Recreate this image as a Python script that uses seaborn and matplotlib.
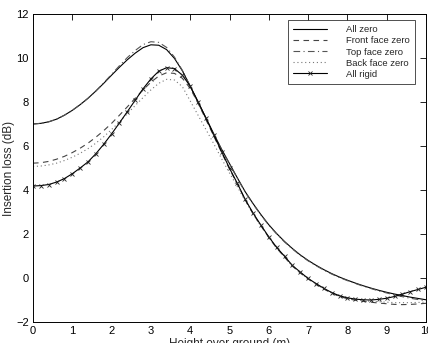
import numpy as np
import pandas as pd
import matplotlib
matplotlib.use("Agg")
import matplotlib.pyplot as plt
import seaborn as sns

# height over ground, 0 to 10 m in 0.2 m steps
altura = np.round(np.arange(0, 10.01, 0.2), 1)

all_zero = [7.00, 7.03, 7.10, 7.22, 7.40, 7.62, 7.88, 8.17, 8.50, 8.85,
            9.22, 9.58, 9.92, 10.22, 10.47, 10.60, 10.58, 10.38, 9.98, 9.42,
            8.72, 7.98, 7.28, 6.55, 5.85, 5.20, 4.55, 3.92, 3.38, 2.88,
            2.42, 2.02, 1.66, 1.34, 1.05, 0.80, 0.58, 0.38, 0.20, 0.04,
            -0.10, -0.23, -0.35, -0.46, -0.56, -0.65, -0.73, -0.80, -0.87, -0.93,
            -0.99]

front_zero = [5.22, 5.24, 5.30, 5.40, 5.53, 5.70, 5.90, 6.13, 6.40, 6.70,
              7.03, 7.40, 7.78, 8.17, 8.55, 8.90, 9.18, 9.33, 9.30, 9.08,
              8.62, 7.95, 7.20, 6.45, 5.70, 4.95, 4.27, 3.55, 2.92, 2.37,
              1.84, 1.36, 0.95, 0.54, 0.23, -0.04, -0.28, -0.50, -0.69, -0.84,
              -0.94, -1.01, -1.06, -1.10, -1.14, -1.17, -1.20, -1.21, -1.20, -1.18,
              -1.15]

top_zero = [7.00, 7.03, 7.10, 7.22, 7.40, 7.62, 7.88, 8.17, 8.50, 8.87,
            9.26, 9.65, 10.02, 10.34, 10.61, 10.74, 10.71, 10.48, 10.04, 9.44,
            8.72, 7.96, 7.26, 6.53, 5.83, 5.18, 4.53, 3.90, 3.36, 2.86,
            2.40, 2.00, 1.64, 1.32, 1.03, 0.78, 0.56, 0.36, 0.18, 0.02,
            -0.12, -0.25, -0.37, -0.48, -0.59, -0.68, -0.77, -0.85, -0.92, -0.98,
            -1.04]

back_zero = [5.07, 5.09, 5.14, 5.22, 5.34, 5.49, 5.67, 5.88, 6.13, 6.42,
             6.75, 7.10, 7.47, 7.84, 8.20, 8.55, 8.85, 9.03, 9.00, 8.70,
             8.05, 7.40, 6.75, 6.10, 5.42, 4.77, 4.15, 3.50, 2.90, 2.36,
             1.84, 1.36, 0.95, 0.54, 0.23, -0.03, -0.27, -0.49, -0.68, -0.83,
             -0.93, -0.99, -1.03, -1.06, -1.08, -1.10, -1.12, -1.12, -1.12, -1.11,
             -1.10]

all_rigid = [4.18, 4.20, 4.25, 4.36, 4.52, 4.74, 5.00, 5.28, 5.65, 6.08,
             6.55, 7.05, 7.56, 8.08, 8.60, 9.05, 9.40, 9.56, 9.52, 9.22,
             8.72, 8.02, 7.27, 6.50, 5.74, 4.99, 4.30, 3.57, 2.95, 2.40,
             1.87, 1.39, 0.99, 0.57, 0.27, -0.02, -0.25, -0.47, -0.66, -0.81,
             -0.90, -0.96, -0.99, -1.00, -0.97, -0.92, -0.84, -0.73, -0.62, -0.52,
             -0.42]

sns.set_style("white")
plt.rcParams["font.family"] = ["Liberation Sans", "DejaVu Sans"]

fig = plt.figure(figsize=(4.28, 3.43), dpi=100)
ax = fig.add_axes([33 / 428, 21 / 343, 393 / 428, 308 / 343])

lw = 0.8
sns.lineplot(x=altura, y=all_zero, ax=ax, color="black", lw=lw, label="All zero")
sns.lineplot(x=altura, y=front_zero, ax=ax, color="#444444", lw=lw,
             linestyle=(0, (5, 4)), label="Front face zero")
sns.lineplot(x=altura, y=top_zero, ax=ax, color="#555555", lw=lw,
             linestyle=(0, (6, 3, 1, 3)), label="Top face zero")
sns.lineplot(x=altura, y=back_zero, ax=ax, color="#777777", lw=lw,
             linestyle=(0, (1, 2.5)), label="Back face zero")
# seaborn pinta o marcador de branco por defeito -> forçar preto
sns.lineplot(x=altura, y=all_rigid, ax=ax, color="black", lw=lw, linestyle="-",
             marker="x", markersize=3.3, markeredgewidth=0.6,
             markeredgecolor="#222222", label="All rigid")

ax.set_xlim(0, 10)
ax.set_ylim(-2, 12)
ax.set_xticks(range(0, 11))
ax.set_yticks(range(-2, 13, 2))
ax.tick_params(direction="in", top=True, right=True, length=4, width=0.6,
               labelsize=8, pad=3, colors="black")
for s in ax.spines.values():
    s.set_color("black")
    s.set_linewidth(0.7)

ax.set_xlabel("Height over ground (m)", fontsize=8.5, labelpad=1)
ax.set_ylabel("Insertion loss (dB)", fontsize=8.5, labelpad=1)

leg = ax.legend(loc="upper right", bbox_to_anchor=(0.972, 0.98), fontsize=6.8,
                frameon=True, fancybox=False, handlelength=3.6,
                handletextpad=2.0, borderpad=0.55, labelspacing=0.22,
                borderaxespad=0)
leg.get_frame().set_edgecolor("black")
leg.get_frame().set_linewidth(0.6)

fig.savefig("out.png", dpi=100)
